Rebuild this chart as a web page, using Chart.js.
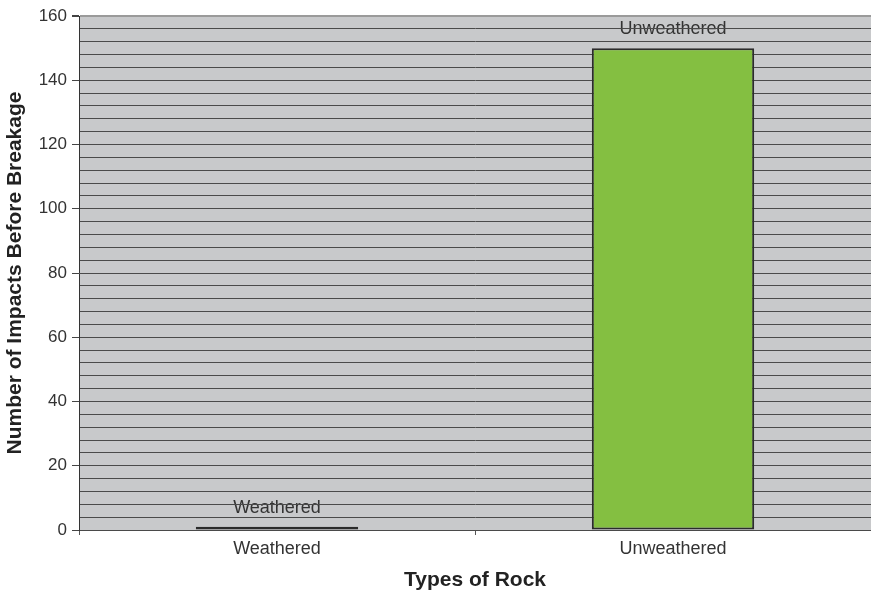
<!DOCTYPE html>
<html>
<head>
<meta charset="utf-8">
<script src="https://cdn.jsdelivr.net/npm/chart.js@4.4.0/dist/chart.umd.min.js"></script>
<style>
  html, body { margin: 0; padding: 0; background: #fff; }
  #wrap { width: 871px; height: 596px; }
</style>
</head>
<body>
<div id="wrap"><canvas id="rock"></canvas></div>
<script>
// 암석 종류별 파괴 전 충격 횟수
const categories = ['Weathered', 'Unweathered'];
const impacts = [1, 150];
const yTicks = [0, 20, 40, 60, 80, 100, 120, 140, 160];

const FONT = 'Liberation Sans, Arial, sans-serif';

// 플롯 영역 회색 배경 + 막대 위 이름 (격자선이 글자 위로 지나가도록 먼저 그림)
const plotBg = {
    id: 'plotBg',
    beforeDraw(chart){
        const a = chart.chartArea;
        const ctx = chart.ctx;
        ctx.save();
        ctx.fillStyle = '#c8c9cb';
        ctx.fillRect(a.left, a.top, a.right - a.left, a.bottom - a.top);

        ctx.font = '18px ' + FONT;
        ctx.fillStyle = '#333';
        ctx.textAlign = 'center';
        ctx.textBaseline = 'middle';
        chart.getDatasetMeta(0).data.forEach((bar, i) => {
            ctx.fillText(categories[i], bar.x, bar.y - 19);
        });
        ctx.restore();
    }
};

new Chart(document.getElementById('rock'), {
    type: 'bar',
    data: {
        labels: categories,
        datasets: [{
            data: impacts,
            backgroundColor: '#84bf41',
            borderColor: '#2b2b2b',
            borderWidth: 2,
            borderSkipped: false,
            barPercentage: 0.82,
            categoryPercentage: 0.5
        }]
    },
    options: {
        responsive: true,
        maintainAspectRatio: false,
        animation: false,
        layout: { padding: { top: 16, right: 0, bottom: 0, left: 0 } },
        plugins: {
            legend: { display: false },
            tooltip: { enabled: false }
        },
        scales: {
            x: {
                afterFit(s){ s.height = 66; },
                grid: {
                    offset: true,
                    drawOnChartArea: false,
                    tickLength: 5,
                    tickColor: '#555'
                },
                border: { display: false },
                ticks: {
                    color: '#333',
                    padding: 3,
                    font: { family: FONT, size: 18 }
                },
                title: {
                    display: true,
                    text: 'Types of Rock',
                    color: '#222',
                    padding: { top: 0, bottom: 3 },
                    font: { family: FONT, size: 21, weight: 'bold' }
                }
            },
            y: {
                min: 0,
                max: 160,
                afterFit(s){ s.width = 79; },
                ticks: {
                    stepSize: 4,
                    autoSkip: false,
                    color: '#333',
                    padding: 5,
                    font: { family: FONT, size: 17 },
                    callback: (v) => yTicks.includes(v) ? v : ''
                },
                grid: {
                    color: (c) => c.tick && c.tick.value === 160 ? '#9a9a9a' : '#4a4a4a',
                    lineWidth: (c) => c.tick && c.tick.value === 160 ? 2 : 1,
                    tickLength: 7,
                    tickColor: (c) => c.tick && yTicks.includes(c.tick.value) ? '#444' : 'rgba(0,0,0,0)'
                },
                border: { display: true, color: '#333', width: 1 },
                title: {
                    display: true,
                    text: 'Number of Impacts Before Breakage',
                    color: '#222',
                    padding: { top: 3, bottom: 0 },
                    font: { family: FONT, size: 21, weight: 'bold' }
                }
            }
        }
    },
    plugins: [plotBg]
});
</script>
</body>
</html>
